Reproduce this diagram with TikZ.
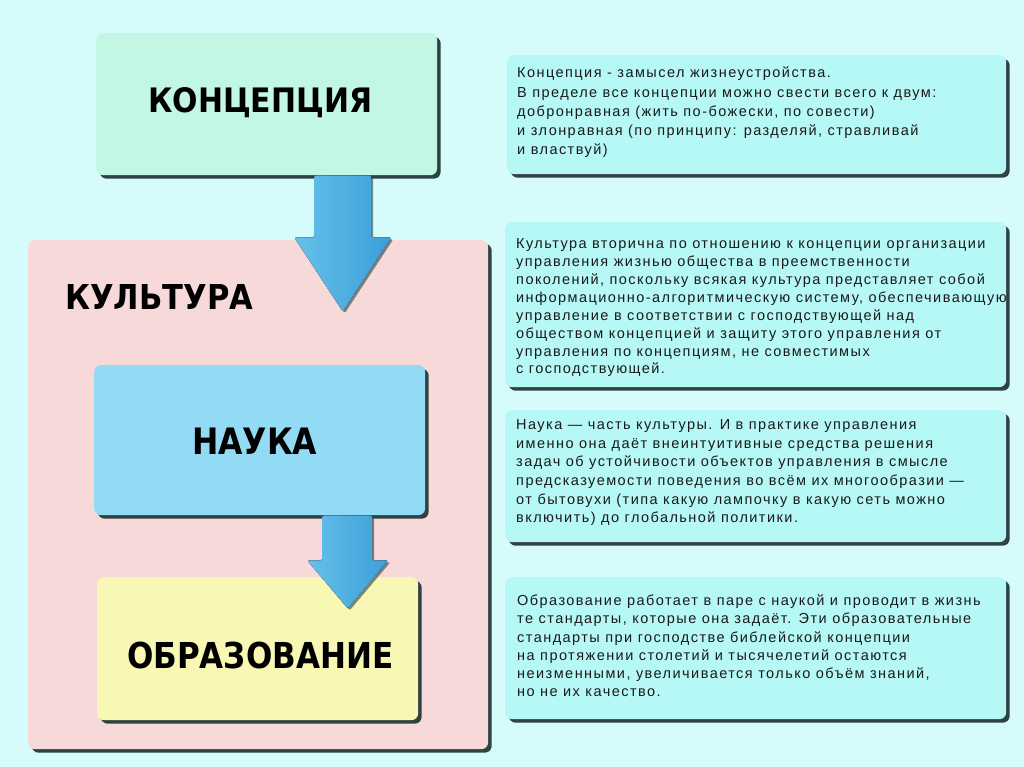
\documentclass[tikz,border=0pt]{standalone}
\usepackage{fontspec}
\usepackage{graphicx}
\setmainfont{Liberation Sans}
\newfontfamily\bodyfont{Liberation Sans}[LetterSpace=10]
\newfontfamily\headfont{DejaVu Sans}
\usetikzlibrary{shadows,calc}
\definecolor{bgc}{HTML}{D6FBFB}
\definecolor{mint}{HTML}{C2F7E4}
\definecolor{pinkc}{HTML}{F7D9DA}
\definecolor{skyc}{HTML}{93DAF5}
\definecolor{yelc}{HTML}{F8F8B4}
\definecolor{cyanc}{HTML}{B6F8F6}
\definecolor{shadc}{HTML}{2E4242}
\definecolor{txtc}{HTML}{1A1A1A}
\definecolor{arrl}{HTML}{66C0EA}
\definecolor{arrr}{HTML}{3C9FD8}
\tikzset{
  panel/.style={rounded corners=7pt, draw=none, inner sep=0pt, anchor=north west,
    drop shadow={shadow xshift=3.5pt, shadow yshift=-3.5pt, fill=shadc, opacity=1}},
  head/.style={inner sep=0pt, anchor=base west},
  body/.style={font=\bodyfont\fontsize{14.5}{#1}\selectfont, text=txtc, align=left, inner sep=0pt,
    anchor=north west, execute at begin node=\strut},
  blockarrow/.style={left color=arrl, right color=arrr, draw=none, rounded corners=1.5pt,
    drop shadow={shadow xshift=2pt, shadow yshift=-2pt, fill=shadc, opacity=0.6}}
}
\newcommand{\hd}[3]{\resizebox{#1pt}{#2pt}{\headfont\bfseries #3}}
\begin{document}
\begin{tikzpicture}[x=1pt,y=-1pt]
\useasboundingbox (0,0) rectangle (1024,767);
\fill[bgc] (0,0) rectangle (1024,767);

% left column
\node[panel, fill=pinkc, minimum width=460, minimum height=509] (kult) at (28,240) {};
\node[panel, fill=mint, minimum width=341, minimum height=142] (konc) at (96,33) {};
\node[panel, fill=skyc, minimum width=331, minimum height=150] (nauka) at (94,365) {};
\node[panel, fill=yelc, minimum width=321, minimum height=143] (obraz) at (97,577) {};

\node[head] (koncT) at (148,113) {\hd{224}{25}{КОНЦЕПЦИЯ}};
\node[head] (kultT) at (65,309) {\hd{188}{25}{КУЛЬТУРА}};
\node[head] (naukaT) at (192,454) {\hd{125}{26.5}{НАУКА}};
\node[head] (obrazT) at (127,668) {\hd{266}{26.5}{ОБРАЗОВАНИЕ}};

% block arrows
\fill[blockarrow] ([xshift=47.5pt]konc.south) -- ++(57,0) -- ++(0,62) -- ++(20,0)
  -- ++(-48.5,74) -- ++(-48.5,-74) -- ++(20,0) -- cycle;
\fill[blockarrow] ([xshift=62.5pt]nauka.south) -- ++(50,0) -- ++(0,45) -- ++(16,0)
  -- ++(-40.5,48) -- ++(-40.5,-48) -- ++(15,0) -- cycle;

% right column
\node[panel, fill=cyanc, minimum width=499, minimum height=119] (t1) at (507,55) {};
\node[panel, fill=cyanc, minimum width=501, minimum height=165] (t2) at (505,222) {};
\node[panel, fill=cyanc, minimum width=501, minimum height=132] (t3) at (505,410) {};
\node[panel, fill=cyanc, minimum width=501, minimum height=142] (t4) at (505,577) {};

\node[body=19.2] (t1T) at (517,66.9) {Концепция - замысел жизнеустройства.\\
В пределе все концепции можно свести всего к двум:\\
добронравная (жить по-божески, по совести)\\
и злонравная (по принципу: разделяй, стравливай\\
и властвуй)};

\node[body=17.9] (t2T) at (516,238.5) {Культура вторична по отношению к концепции организации\\
управления жизнью общества в преемственности\\
поколений, поскольку всякая культура представляет собой\\
информационно-алгоритмическую систему, обеспечивающую\\
управление в соответствии с господствующей над\\
обществом концепцией и защиту этого управления от\\
управления по концепциям, не совместимых\\
с господствующей.};

\node[body=18.6] (t3T) at (516,419.5) {Наука — часть культуры. И в практике управления\\
именно она даёт внеинтуитивные средства решения\\
задач об устойчивости объектов управления в смысле\\
предсказуемости поведения во всём их многообразии —\\
от бытовухи (типа какую лампочку в какую сеть можно\\
включить) до глобальной политики.};

\node[body=18.2] (t4T) at (517,594.8) {Образование работает в паре с наукой и проводит в жизнь\\
те стандарты, которые она задаёт. Эти образовательные\\
стандарты при господстве библейской концепции\\
на протяжении столетий и тысячелетий остаются\\
неизменными, увеличивается только объём знаний,\\
но не их качество.};
\end{tikzpicture}
\end{document}
